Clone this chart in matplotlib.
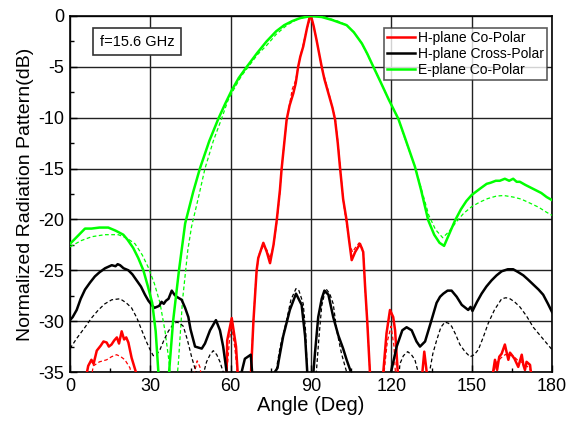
import matplotlib
matplotlib.use("Agg")
import matplotlib.pyplot as plt
import numpy as np
from matplotlib.ticker import MultipleLocator

plt.rcParams['font.family'] = ['Liberation Sans', 'DejaVu Sans']
plt.rcParams['axes.unicode_minus'] = False

# ---- E-plane Co-Polar (measured) ----
e_meas_ang = [0, 3, 5.6, 8, 11, 14.3, 17, 19.9, 21.5, 23.6, 25.5, 27.4, 29, 30.7, 32, 33, 35,
              37, 38.5, 40.7, 43, 46, 48.5, 52, 55.4, 58, 60.4, 63, 66, 70, 73.4, 77, 80, 83, 86, 90,
              94, 98, 103.3, 106, 109, 111, 113.3, 116, 119, 122.6, 125, 128.8, 131, 133.8, 136, 138,
              139.7, 141.5, 143.8, 146, 148, 150, 153, 155.6, 157, 159, 160.5, 162.4, 164, 165.5,
              166.8, 168, 170, 171.5, 173, 176, 178, 180]
e_meas_db = [-22.4, -21.6, -20.9, -20.9, -20.8, -20.8, -21.1, -21.5, -22.0, -22.8, -23.8, -25.0,
             -26.5, -28.2, -31, -35, -42,
             -35, -30, -25, -20.4, -17.3, -15.0, -12.3, -10.1, -8.6, -7.3, -6.1, -5.0, -3.6, -2.5,
             -1.5, -0.9, -0.5, -0.2, 0,
             -0.1, -0.4, -0.9, -1.6, -2.7, -3.7, -5.0, -6.5, -8.2, -10.1, -11.9, -14.8, -17.0,
             -20.1, -21.5, -22.3,
             -22.6, -21.5, -20.1, -19.0, -18.2, -17.6, -17.0, -16.5, -16.4, -16.2, -16.2, -16.0,
             -16.2, -16.0, -16.3, -16.3, -16.6, -16.8, -17.0, -17.4, -17.8, -18.1]

# ---- E-plane Co-Polar (simulated) ----
e_sim_ang = [0, 4, 8.1, 13, 18, 21, 24.3, 27, 29.2, 31.5, 33.6, 35.5, 37, 38, 39.5, 40.5, 42, 44,
             45.4, 48, 50.4, 53.5, 56.6, 59, 61, 64, 66.6, 70, 73.4, 77, 81, 85, 90,
             95, 100, 103.3, 106, 109, 113.3, 116, 119, 122.6, 125, 128.8, 131, 134, 136.5, 139.2,
             141.5, 144.4, 147, 150, 153, 156, 159.3, 162, 165.5, 168.5, 171.8, 175, 178, 180]
e_sim_db = [-22.7, -22.1, -21.7, -21.5, -21.5, -21.8, -22.4, -23.5, -24.7, -26.3, -28.2, -31,
            -34, -37, -37, -34, -28, -23,
            -20.7, -17.8, -15.0, -12.3, -10.1, -8.3, -7.3, -5.9, -5.0, -3.8, -2.9, -1.8, -0.9,
            -0.3, 0,
            -0.1, -0.5, -0.9, -1.6, -2.7, -5.0, -6.5, -8.2, -10.1, -12.0, -14.8, -16.8, -19.6,
            -21.0, -21.8,
            -21.2, -20.2, -19.4, -18.75, -18.3, -17.95, -17.7, -17.65, -17.8, -18.0, -18.4,
            -18.8, -19.3, -19.6]

# ---- H-plane Co-Polar (measured) ----
h_meas_ang = [0, 5, 6.0, 6.8, 8, 8.8, 10, 11.5, 12.5, 13.7, 14.5, 15.5, 16.5, 17.5, 18.3, 19.3,
              20.2, 21, 21.8, 23, 24.6, 25.5, 30, 45, 58, 58.5, 58.7, 60.4, 62, 62.6, 63.5, 66.5,
              67.6, 68.5, 69.7, 70.3, 72.2, 73.5, 74.7, 76, 77.2, 78.4, 79, 80.9, 82, 83.4, 84.3,
              85.2, 86, 87.1, 88.5, 89.6, 90, 91, 92.1, 94, 95, 96.5, 98, 99, 100, 100.8, 102,
              103.3, 104.2, 105.2, 106.5, 108.3, 109.5, 110.2, 111, 112, 113, 116, 117, 118.2,
              119.5, 120.7, 121.4, 122.4, 123, 131, 131.6, 132.3, 133.2, 134, 157, 158, 158.7,
              159.5, 160.3, 161.2, 162.4, 163, 163.7, 164.3, 164.9, 166, 167.4, 168.7, 169.3,
              169.9, 170.5, 171.8, 172.1, 173, 180]
h_meas_db = [-40, -40, -35.5, -34.4, -33.8, -34.2, -32.9, -32.4, -32.0, -32.1, -32.5, -32.3,
             -31.9, -31.6, -32.2, -31.0, -31.8, -31.6, -32.1, -33.6, -35, -38, -40, -40, -37,
             -35, -31.9, -29.7, -32.5, -35, -40, -40,
             -35, -30, -25, -23.8, -22.3, -23.2, -24.3, -22.5, -20.1, -17.1, -15.1, -10.2, -8.8,
             -7.6, -6.6, -5.0, -4.0, -3.0, -1.2, 0, 0, -1.0, -2.4, -5.0, -6.2, -7.6, -9.0, -10.2,
             -12.5, -14.8, -18, -20.1, -22, -24.0, -23.2, -22.4, -23.2, -26.6, -30, -35, -40,
             -40, -35, -31.2, -28.9, -29.6, -30.9, -35, -40, -40, -35, -33.0, -35, -40, -40,
             -35, -33.8, -34.8, -33.5, -33.2, -32.3, -33.0, -33.8, -33.1, -33.3, -33.7, -34.5,
             -33.3, -34.3, -34.8, -34.0, -34.3, -35, -40, -40]

# ---- H-plane Co-Polar (simulated) ----
h_sim_ang = [0, 7, 8.7, 11, 13.7, 15.5, 17.4, 19, 20.5, 22.4, 24, 26, 45.5, 46.5, 47.5, 48.5,
             50, 57, 58.6, 59.5, 60.3, 61.5, 62.5, 63.5, 66.5, 67.5, 68.5, 69.5, 70.5, 72.2, 73.5,
             74.7, 76, 77.2, 78.4, 79, 80.9, 82, 83, 84.3, 85.2, 86, 87.1, 88.5, 90, 91, 92.1, 94,
             95, 96.5, 98, 99, 100, 100.8, 102, 103.3, 104.5, 105.5, 106.5, 108, 109.5, 110.2,
             111, 112, 113, 116, 117.3, 118.5, 119.9, 121, 121.5, 122.5, 157, 158.2, 159.5, 161,
             162.5, 164, 165.5, 167, 168.5, 170, 171.5, 172.5, 173.5, 180]
h_sim_db = [-40, -37, -34.4, -34.0, -33.8, -33.5, -33.3, -33.5, -33.8, -34.6, -37, -42, -37,
            -35, -33.9, -34.5, -37, -40, -35, -32, -30.4, -32.5, -35, -40, -40, -35, -30, -25.5,
            -23.5, -22.6, -23.0, -23.8, -22.6, -20.3, -17.3, -15.0, -10.3, -8.7, -7.2, -6.3,
            -5.0, -4.0, -2.8, -1.2, 0, -1.0, -2.4, -5.0, -6.0, -7.4, -9.0, -10.0, -12.3, -14.6,
            -18, -20.5, -22.5, -23.2, -22.8, -22.3, -23.0, -26.8, -30, -35, -40, -40, -35, -32,
            -30.5, -32.5, -35, -40, -40, -35, -34.0, -33.6, -33.3, -33.2, -33.4, -33.8, -34.0,
            -34.3, -34.6, -35, -40, -40]

# ---- H-plane Cross-Polar (measured) ----
x_meas_ang = [0, 1, 2.5, 4, 5.6, 7.5, 9.3, 11, 13.1, 15.6, 17, 17.8, 18.7, 20, 21.8, 23.3, 24.9,
              26.5, 28, 29.3, 30.5, 31.5, 32.4, 33.3, 34.2, 35, 35.8, 36.8, 38, 39, 39.8, 41.7, 43,
              44.2, 45, 46, 46.7, 49.2, 50.4, 52.3, 54.5, 56, 57.2, 58.5, 59.5, 63, 64.1, 65.3,
              67.5, 68, 69, 75.5, 76.5, 77.5, 78, 79.6, 82.1, 84.4, 86.5, 87.8, 88.6, 89.5, 90.3,
              90.9, 91.5, 92.7, 94, 95, 96.5, 98.3, 100.2, 102, 103.3, 104.9, 106, 119, 119.9, 122,
              124.1, 125.7, 127.6, 129.4, 130.7, 132.6, 135, 136.9, 138.2, 139.4, 141, 142.5, 144.4,
              146.3, 148.7, 149.6, 150.3, 152, 153.7, 155.5, 157.4, 159.3, 161.2, 163.5, 165.5,
              167.5, 169.3, 171, 173, 175, 176.7, 178.5, 180]
x_meas_db = [-29.9, -29.6, -28.9, -27.8, -26.9, -26.2, -25.6, -25.2, -24.8, -24.5, -24.6, -24.4,
             -24.5, -24.8, -25.0, -25.4, -26.0, -26.6, -27.4, -28.0, -28.4, -28.7, -28.6, -28.5,
             -28.1, -28.3, -28.0, -27.8, -27.0, -27.4, -27.6, -27.9, -28.7, -29.6, -30.8, -31.8,
             -32.5, -32.7, -32.2, -30.9, -29.9, -30.9, -32.5, -35, -40, -40, -35, -33.7, -33.3,
             -35, -40, -40, -35, -34.6, -33.8, -31.5, -28.9, -27.3, -28.4, -31.5, -35, -40, -40,
             -35, -33.1, -29.6, -27.8, -27.0, -27.4, -29.6, -31.4, -32.7, -33.8, -35, -40, -40,
             -35, -32.5, -30.9, -30.6, -30.9, -32.0, -32.5, -32.0, -29.9, -28.2, -27.6, -27.3,
             -27.0, -27.0, -27.6, -28.4, -28.9, -28.6, -29.0, -28.1, -27.3, -26.6, -26.0, -25.5,
             -25.1, -24.9, -24.9, -25.2, -25.5, -25.9, -26.4, -26.9, -27.4, -28.3, -29.1]

# ---- H-plane Cross-Polar (simulated) ----
x_sim_ang = [0, 2.5, 5.6, 8, 10.6, 13, 15.6, 18.7, 21, 23, 25, 26.8, 28.5, 29.9, 31.1, 32.3, 33.6,
             35.2, 36.7, 38.3, 39.8, 41, 42.3, 43.8, 45.4, 46.5, 48.5, 50, 51, 52.3, 53.5, 54.8,
             56, 57.2, 58, 76, 77.2, 78.5, 80.9, 82.5, 84.4, 85.5, 87.1, 88, 88.6, 89.5, 91.5, 92,
             93, 94, 95.5, 97, 98.3, 99.6, 101.4, 103.3, 104, 121.5, 123.2, 124.5, 126.1, 127.5,
             128.8, 130, 131.5, 133.5, 134.4, 135.5, 136.9, 138.5, 140, 141.3, 142.5, 144, 145.6,
             147.5, 149.4, 151, 152.5, 154.3, 156.2, 158.5, 161.2, 162.8, 164.3, 166, 168, 170.5,
             173, 176.5, 180]
x_sim_db = [-32.7, -31.7, -30.6, -29.7, -28.9, -28.3, -27.9, -27.8, -28.2, -28.7, -29.7, -30.9,
            -32.0, -32.8, -33.4, -33.3, -32.8, -31.8, -31.0, -30.4, -30.1, -30.2, -30.5, -31.8,
            -33.5, -34.5, -36, -35, -34.0, -33.3, -32.9, -33.3, -34.0, -35, -37, -40, -34.5,
            -32.5, -29.9, -27.9, -26.8, -27.0, -28.3, -31, -35, -40, -40, -35, -31.5, -28.5,
            -26.8, -27.3, -28.3, -30.9, -33.2, -35, -40, -40, -34.2, -33.4, -33.0, -33.3, -33.8,
            -35, -37, -37, -34.8, -33.2, -31.9, -30.6, -30.1, -30.2, -30.5, -31.3, -32.3, -33.0,
            -33.5, -33.3, -32.8, -31.6, -30.2, -28.9, -27.8, -27.7, -27.8, -28.1, -28.6, -29.5,
            -30.6, -31.7, -32.8]

series_labels = ["H-plane Co-Polar", "H-plane Cross-Polar", "E-plane Co-Polar"]
x_ticks = [0, 30, 60, 90, 120, 150, 180]
y_ticks = [0, -5, -10, -15, -20, -25, -30, -35]

RED = '#ff0000'
BLACK = '#000000'
GREEN = '#00ff00'

fig = plt.figure(figsize=(5.66, 4.23), dpi=100)
ax = fig.add_axes([70/566, 1-372/423, (552-70)/566, (372-16)/423])

lw_m = 1.8
lw_s = 0.9
dash = (0, (3, 2))

ax.plot(e_sim_ang, e_sim_db, color=GREEN, lw=lw_s, ls=dash, zorder=3)
ax.plot(h_sim_ang, h_sim_db, color=RED, lw=lw_s, ls=dash, zorder=3)
ax.plot(x_sim_ang, x_sim_db, color=BLACK, lw=lw_s, ls=dash, zorder=3)

l1, = ax.plot(h_meas_ang, h_meas_db, color=RED, lw=lw_m, zorder=4)
l2, = ax.plot(x_meas_ang, x_meas_db, color=BLACK, lw=lw_m, zorder=4)
l3, = ax.plot(e_meas_ang, e_meas_db, color=GREEN, lw=lw_m, zorder=4)

ax.set_xlim(0, 180)
ax.set_ylim(-35, 0)
ax.set_xticks(x_ticks)
ax.set_yticks(y_ticks)
ax.xaxis.set_minor_locator(MultipleLocator(15))
ax.yaxis.set_minor_locator(MultipleLocator(2.5))
ax.tick_params(which='both', direction='in', top=False, right=False, labelsize=13)
ax.tick_params(which='major', length=5, width=1, pad=4)
ax.tick_params(which='minor', length=3, width=1)
ax.grid(True, which='major', color='#222222', lw=1.0)
for s in ax.spines.values():
    s.set_linewidth(1.2)

ax.set_xlabel("Angle (Deg)", fontsize=14.5, labelpad=1)
ax.set_ylabel("Normalized Radiation Pattern(dB)", fontsize=14, labelpad=3)

leg = ax.legend([l1, l2, l3], series_labels, loc='upper right', bbox_to_anchor=(0.99, 0.966),
                fontsize=10, frameon=True, fancybox=False, edgecolor='#333333',
                handlelength=2.0, handletextpad=0.25, borderpad=0.2, labelspacing=0.15,
                borderaxespad=0)
leg.get_frame().set_linewidth(1.2)

ax.text(0.139, 0.928, "f=15.6 GHz", transform=ax.transAxes, fontsize=10.5, va='center',
        ha='center',
        bbox=dict(boxstyle='square,pad=0.45', facecolor='white', edgecolor='#333333', lw=1.2),
        zorder=6)

fig.savefig("out.png", dpi=100)
